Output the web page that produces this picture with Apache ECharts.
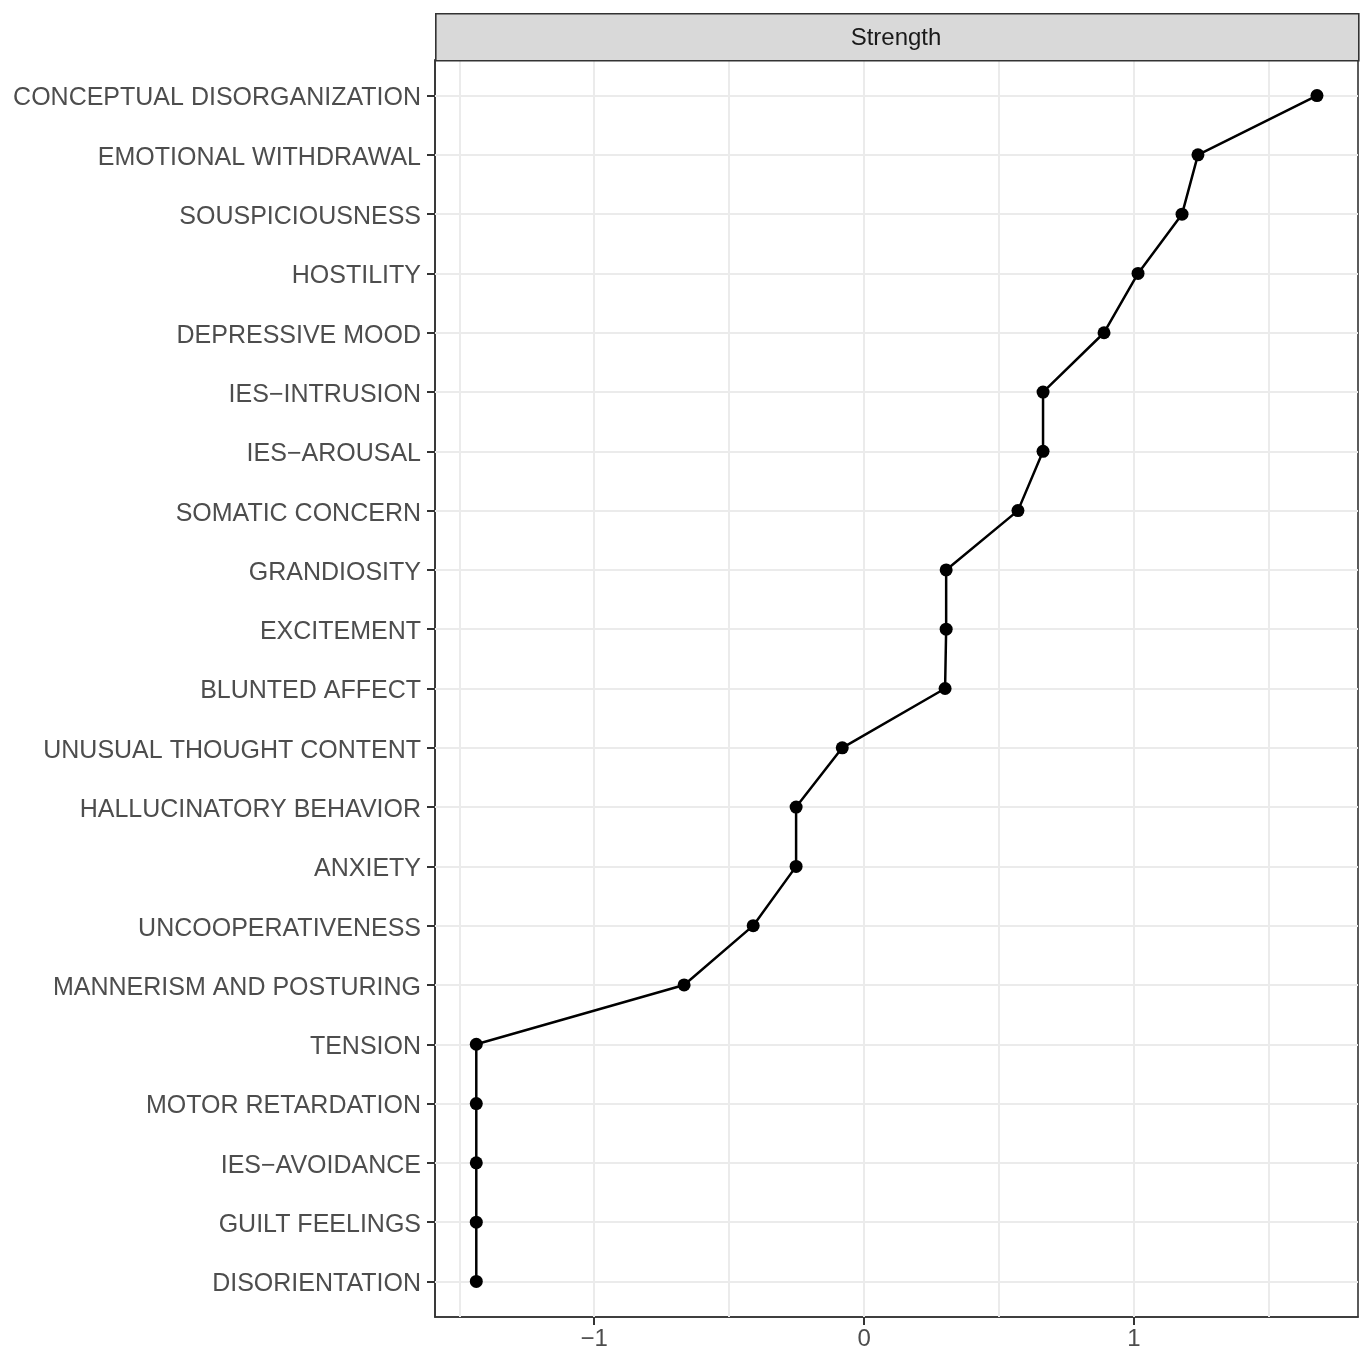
<!DOCTYPE html>
<html>
<head>
<meta charset="utf-8">
<script src="https://cdn.jsdelivr.net/npm/echarts@6/dist/echarts.min.js"></script>
<style>html,body{margin:0;padding:0;background:#fff}#c{width:1363px;height:1351px}</style>
</head>
<body>
<div id="c"></div>
<script>
const categories = [
  "CONCEPTUAL DISORGANIZATION","EMOTIONAL WITHDRAWAL","SOUSPICIOUSNESS","HOSTILITY",
  "DEPRESSIVE MOOD","IES\u2212INTRUSION","IES\u2212AROUSAL","SOMATIC CONCERN","GRANDIOSITY",
  "EXCITEMENT","BLUNTED AFFECT","UNUSUAL THOUGHT CONTENT","HALLUCINATORY BEHAVIOR","ANXIETY",
  "UNCOOPERATIVENESS","MANNERISM AND POSTURING","TENSION","MOTOR RETARDATION","IES\u2212AVOIDANCE",
  "GUILT FEELINGS","DISORIENTATION"
];
const strength = [
  1.678, 1.237, 1.178, 1.015, 0.889, 0.663, 0.663, 0.570, 0.304, 0.304, 0.300,
  -0.081, -0.252, -0.252, -0.411, -0.667, -1.437, -1.437, -1.437, -1.437, -1.437
];
const xTicks = [-1, 0, 1];
const xGrid = [-1.5, -1, -0.5, 0, 0.5, 1, 1.5];
const stripLabel = "Strength";

const rowIdx = categories.map((_, i) => i);
const chart = echarts.init(document.getElementById('c'));
const FONT = '"Liberation Sans", Arial, sans-serif';

const gridLines = [];
xGrid.forEach(v => gridLines.push({ xAxis: v }));
rowIdx.forEach(v => gridLines.push({ yAxis: v }));

chart.setOption({
  animation: false,
  backgroundColor: '#ffffff',
  grid: {
    left: 435, right: 5, top: 60, bottom: 33,
    show: true, borderColor: '#333333', borderWidth: 1.6, backgroundColor: '#ffffff', z: 0
  },
  xAxis: {
    type: 'value', min: -1.59, max: 1.83,
    axisLine: { show: true, onZero: false, lineStyle: { color: '#333333', width: 1.6 } },
    axisTick: { show: true, customValues: xTicks, length: 8, lineStyle: { color: '#333333', width: 2 } },
    axisLabel: {
      customValues: xTicks, margin: 10,
      formatter: v => (v < 0 ? '\u2212' + Math.abs(v) : String(v)),
      color: '#4D4D4D', fontSize: 24, fontFamily: FONT
    },
    splitLine: { show: false }
  },
  yAxis: {
    type: 'value', inverse: true, min: -0.6, max: 20.6,
    axisLine: { show: true, onZero: false, lineStyle: { color: '#333333', width: 1.6 } },
    axisTick: { show: true, customValues: rowIdx, length: 8, lineStyle: { color: '#333333', width: 2 } },
    axisLabel: {
      customValues: rowIdx, margin: 14, lineHeight: 32, verticalAlign: 'top', padding: [-13, 0, 0, 0],
      formatter: v => categories[Math.round(v)] || '',
      color: '#4D4D4D', fontSize: 25, fontFamily: FONT
    },
    splitLine: { show: false }
  },
  graphic: [
    {
      type: 'rect', left: 435, top: 13, z: 10,
      shape: { width: 923, height: 47 },
      style: { fill: '#D9D9D9', stroke: '#333333', lineWidth: 1.6 }
    },
    {
      type: 'text', x: 896, y: 38, z: 11,
      style: { text: stripLabel, fill: '#1A1A1A', font: '24px ' + FONT, align: 'center', verticalAlign: 'middle' }
    }
  ],
  series: [
    {
      type: 'line', data: [], z: 1, silent: true,
      markLine: {
        silent: true, symbol: 'none', animation: false,
        label: { show: false },
        lineStyle: { color: '#EBEBEB', width: 2, type: 'solid' },
        data: gridLines
      }
    },
    {
      type: 'line', z: 5,
      data: strength.map((v, i) => [v, i]),
      symbol: 'circle', symbolSize: 13,
      itemStyle: { color: '#000000' },
      lineStyle: { color: '#000000', width: 2.5 }
    }
  ]
});
</script>
</body>
</html>
